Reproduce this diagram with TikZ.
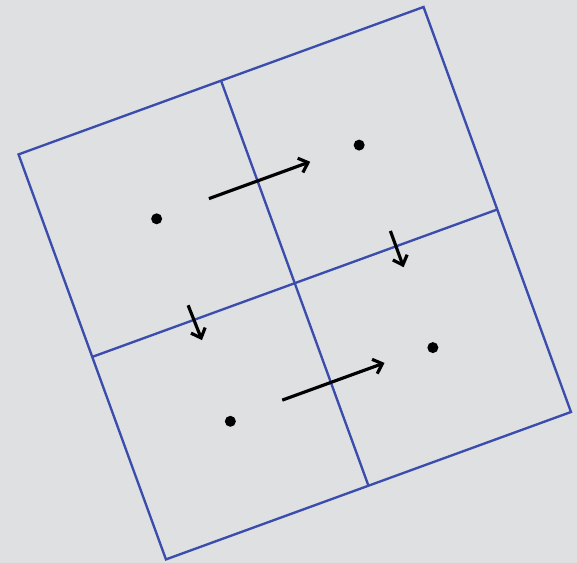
\documentclass[tikz,border=0pt]{standalone}
\usetikzlibrary{arrows.meta}
\definecolor{paper}{RGB}{223,224,226}
\definecolor{gridblue}{RGB}{58,76,172}
\begin{document}
\begin{tikzpicture}[
    grid/.style={draw=gridblue, line width=2pt, line join=miter},
    dot/.style={circle, fill=black, inner sep=0pt, minimum size=0.33cm},
    flow/.style={line width=2.7pt, -{Straight Barb[length=7pt, width=13pt]}}
  ]
  % background and margins
  \fill[paper] (0,0) rectangle (17.31,-16.89);
  \useasboundingbox (0,0) rectangle (17.31,-16.89);
  \begin{scope}[shift={(8.8425,-8.496)}, rotate=20, x=6.465cm, y=6.465cm]
    % cells
    \draw[grid] (-1,-1) -- (1,-1) -- (1,1) -- (-1,1) -- cycle;
    \draw[grid] (0,-1) -- (0,1);
    \draw[grid] (-1,0) -- (1,0);
    % dots
    \node[dot] (tl) at (-0.5,0.5) {};
    \node[dot] (tr) at (0.5,0.5) {};
    \node[dot] (br) at (0.5,-0.5) {};
    \node[dot] (bl) at (-0.5,-0.5) {};
    % arrow ends
    \coordinate (topA) at (-0.24,0.505);
    \coordinate (topB) at (0.26,0.505);
    \coordinate (botA) at (-0.24,-0.49);
    \coordinate (botB) at (0.265,-0.49);
    \coordinate (rgtA) at (0.5,0.076);
    \coordinate (rgtB) at (0.5,-0.103);
    \coordinate (lftA) at (-0.5,0.073);
    \coordinate (lftB) at (-0.495,-0.101);
    % arrows
    \draw[flow] (topA) -- (topB);
    \draw[flow] (botA) -- (botB);
    \draw[flow] (rgtA) -- (rgtB);
    \draw[flow] (lftA) -- (lftB);
  \end{scope}
\end{tikzpicture}
\end{document}
